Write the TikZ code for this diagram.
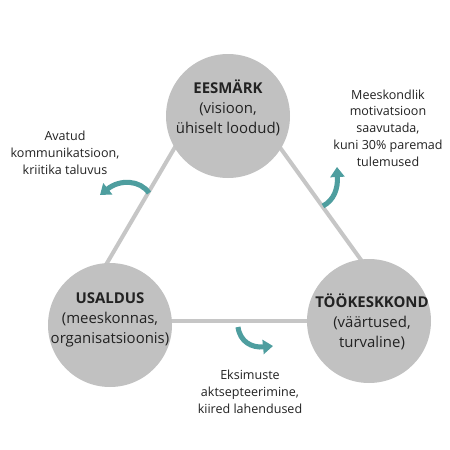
\documentclass[tikz,border=0pt]{standalone}
\usepackage{fontspec}
\setmainfont{Open Sans}
\usetikzlibrary{arrows.meta}
\definecolor{circfill}{HTML}{C1C1C1}
\definecolor{linegray}{HTML}{C6C6C6}
\definecolor{tealc}{HTML}{4E9E9F}
\definecolor{txt}{HTML}{222222}
\begin{document}
\begin{tikzpicture}[x=0.75pt,y=-0.75pt,
  bigcirc/.style={circle,fill=circfill,draw=none,minimum size=93pt,inner sep=0pt},
  circtext/.style={align=center,font=\fontsize{11.2}{15.2}\selectfont,text=txt,inner sep=0pt},
  labeltext/.style={align=center,font=\fontsize{9.4}{12.6}\selectfont,text=txt,inner sep=0pt},
  edge/.style={draw=linegray,line width=3pt},
  turn/.style={draw=tealc,line width=3.8pt,-{Triangle[width=10.5pt,length=7.5pt]}}]
\useasboundingbox (0,0) rectangle (450,450);
\fill[white] (0,0) rectangle (450,450);
% triangle corners (hidden behind circles)
\coordinate (vT) at (222,67);
\coordinate (vL) at (73,321);
\coordinate (vR) at (405,321);
\draw[edge] (vT) -- (vL);
\draw[edge] (vT) -- (vR);
\draw[edge] (vL) -- (vR);
% circles
\node[bigcirc] (top) at (228,116) {};
\node[bigcirc] (left) at (110,325) {};
\node[bigcirc] (right) at (369,321) {};
% circle texts
\node[circtext] (ttop) at (228,108) {\textbf{EESMÄRK}\\(visioon,\\ühiselt loodud)};
\node[circtext] (tleft) at (110,320) {\textbf{USALDUS}\\(meeskonnas,\\organisatsioonis)};
\node[circtext] (tright) at (372,322) {\textbf{TÖÖKESKKOND}\\(väärtused,\\turvaline)};
% labels
\node[labeltext] (lleft) at (65,153) {Avatud\\kommunikatsioon,\\kriitika taluvus};
\node[labeltext] (lright) at (388,128) {Meeskondlik\\motivatsioon\\saavutada,\\kuni 30\% paremad\\tulemused};
\node[labeltext] (lbottom) at (250,392) {Eksimuste\\aktsepteerimine,\\kiired lahendused};
% curved arrows
\draw[turn] (149,193) .. controls (140,180) and (120,179) .. (100,195);
\draw[turn] (323,206) .. controls (334,200) and (338,189) .. (337,167);
\draw[turn] (238,327) .. controls (240,342) and (252,348) .. (273,346);
\end{tikzpicture}
\end{document}
